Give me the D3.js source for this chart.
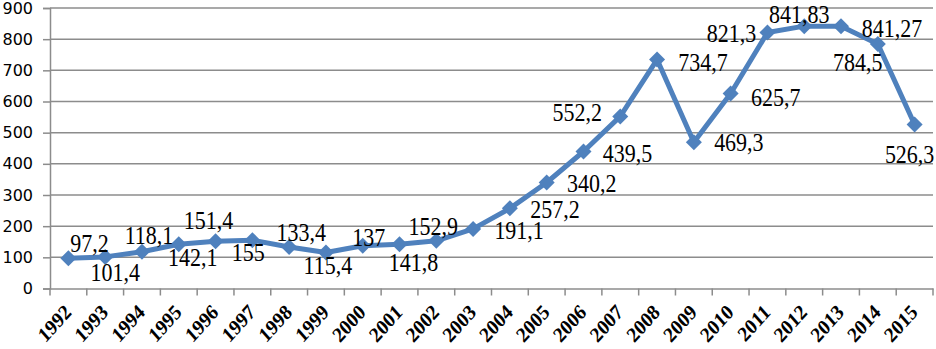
<!DOCTYPE html>
<html>
<head>
<meta charset="utf-8">
<script src="https://cdn.jsdelivr.net/npm/d3@7"></script>
<style>
  html, body { margin: 0; padding: 0; background: #fff; }
  svg { display: block; }
</style>
</head>
<body>
<svg id="chart" width="936" height="349"></svg>
<script>
// ---- data ----
const years = ["1992","1993","1994","1995","1996","1997","1998","1999","2000","2001","2002","2003",
               "2004","2005","2006","2007","2008","2009","2010","2011","2012","2013","2014","2015"];
const values = [97.2, 101.4, 118.1, 142.1, 151.4, 155, 133.4, 115.4, 137, 141.8, 152.9, 191.1,
                257.2, 340.2, 439.5, 552.2, 734.7, 469.3, 625.7, 821.3, 841.83, 841.27, 784.5, 526.3];
const valueLabels = ["97,2","101,4","118,1","142,1","151,4","155","133,4","115,4","137","141,8","152,9","191,1",
                     "257,2","340,2","439,5","552,2","734,7","469,3","625,7","821,3","841,83","841,27","784,5","526,3"];
const yTicks = [0, 100, 200, 300, 400, 500, 600, 700, 800, 900];

// label offsets (placement, px) relative to each point
const labelOffsets = [[21,-15],[10,15],[7,-16],[14,13],[-7,-21],[-4,12],[12,-15],[2,13],[6,-8],[14,18],[-3,-14],[46,1],
                      [45,1],[45,1],[44,2],[-43,-4],[46,3],[45,0],[45,4],[-36,1],[-5,-12],[51,2],[-20,18],[-5,30]];

// ---- layout ----
const svg = d3.select("#chart");
const mLeft = 50, mRight = 933, mTop = 8, mBottom = 288.5;
const blue = "#4F81BD";
const gridColor = "#8c8c8c";

const x = d3.scaleBand().domain(years).range([mLeft, mRight]);
const y = d3.scaleLinear().domain([0, 900]).range([mBottom, mTop]);

// gridlines
svg.append("g").selectAll("line").data(yTicks.filter(d => d > 0)).join("line")
  .attr("x1", mLeft).attr("x2", mRight)
  .attr("y1", d => y(d)).attr("y2", d => y(d))
  .attr("stroke", gridColor).attr("stroke-width", 1.5);

// y axis
const yAxis = svg.append("g").attr("transform", `translate(${mLeft},0)`)
  .call(d3.axisLeft(y).tickValues(yTicks).tickSize(7).tickPadding(10).tickFormat(d3.format("d")));
yAxis.select(".domain").attr("stroke", gridColor).attr("stroke-width", 1.5);
yAxis.selectAll(".tick line").attr("stroke", gridColor).attr("stroke-width", 1.5);
yAxis.selectAll(".tick text")
  .attr("font-family", "'DejaVu Sans', sans-serif").attr("font-size", 16).attr("fill", "#000");

// x axis
const xAxis = svg.append("g").attr("transform", `translate(0,${mBottom})`)
  .call(d3.axisBottom(x).tickSize(0).tickFormat(""));
xAxis.select(".domain").attr("stroke", gridColor).attr("stroke-width", 1.5);
// tick marks at category boundaries
const boundaries = years.map(d => x(d)).concat([x(years[years.length - 1]) + x.bandwidth()]);
svg.append("g").selectAll("line").data(boundaries).join("line")
  .attr("x1", d => d).attr("x2", d => d)
  .attr("y1", mBottom).attr("y2", mBottom + 7)
  .attr("stroke", gridColor).attr("stroke-width", 1.5);

// rotated year labels
svg.append("g").selectAll("text").data(years).join("text")
  .attr("transform", d => `translate(${x(d) + x.bandwidth() / 2 + 4},${mBottom + 25}) scale(1,1.12) rotate(-45)`)
  .attr("text-anchor", "end")
  .attr("font-family", "'Liberation Serif', 'Times New Roman', serif")
  .attr("font-weight", "bold").attr("font-size", 19).attr("fill", "#000")
  .text(d => d);

// line
const cx = d => x(d) + x.bandwidth() / 2;
svg.append("path")
  .datum(years.map((yr, i) => [cx(yr), y(values[i])]))
  .attr("d", d3.line())
  .attr("fill", "none").attr("stroke", blue).attr("stroke-width", 5)
  .attr("stroke-linejoin", "round");

// diamond markers
const r = 8;
svg.append("g").selectAll("path").data(years).join("path")
  .attr("transform", (d, i) => `translate(${cx(d)},${y(values[i])})`)
  .attr("d", `M0,${-r}L${r},0L0,${r}L${-r},0Z`)
  .attr("fill", blue);

// data labels
svg.append("g").selectAll("text").data(years).join("text")
  .attr("transform", (d, i) => `translate(${cx(d) + labelOffsets[i][0]},${y(values[i]) + labelOffsets[i][1]}) scale(1,1.15)`)
  .attr("dy", "0.34em")
  .attr("text-anchor", "middle")
  .attr("font-family", "'Liberation Serif', 'Times New Roman', serif")
  .attr("font-size", 22).attr("fill", "#000")
  .text((d, i) => valueLabels[i]);
</script>
</body>
</html>
